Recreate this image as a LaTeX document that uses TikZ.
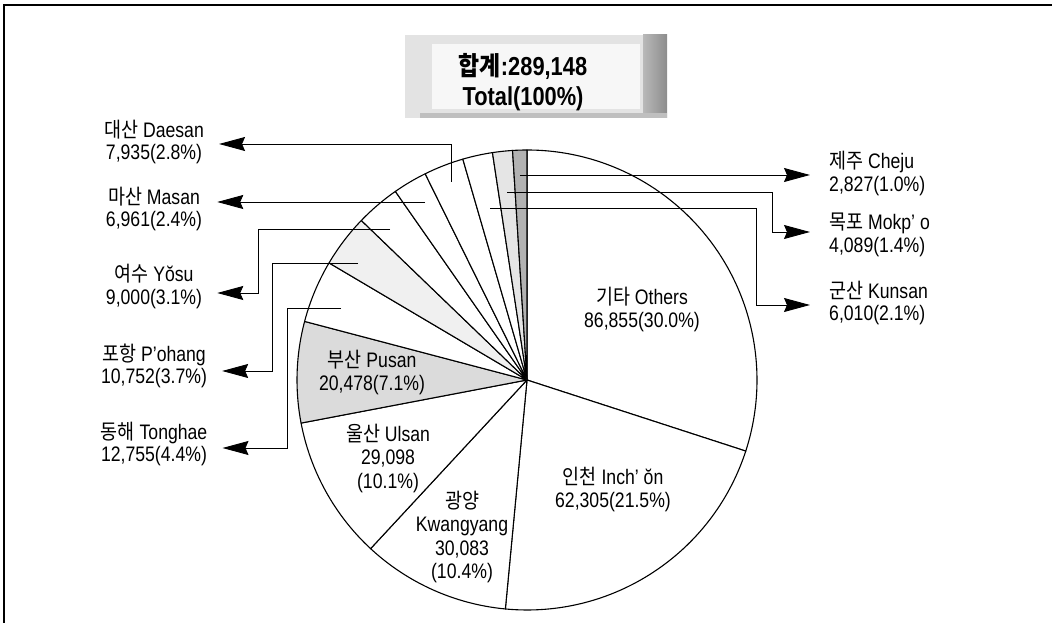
\documentclass[tikz,border=0pt]{standalone}
\usepackage{fontspec}
\setmainfont[FakeStretch=0.84]{Liberation Sans}
\newfontfamily\kr[FakeStretch=0.88,Scale=1.0]{Noto Sans CJK KR}
\usetikzlibrary{arrows.meta,calc}
\begin{document}
\begin{tikzpicture}[x=1pt,y=1pt,
  slice/.style={draw=black,line width=1.1pt,line join=round},
  lead/.style={draw=black,line width=0.9pt},
  arr/.style={lead,-{Stealth[length=26pt,width=14pt,inset=3pt]}},
  lbl/.style={align=center,font=\fontsize{21}{22.5}\selectfont,inner ysep=0pt,inner xsep=15pt},
  rlbl/.style={align=left,anchor=west,font=\fontsize{21}{22.5}\selectfont,inner ysep=0pt,inner xsep=19pt},
  inlbl/.style={align=center,font=\fontsize{21}{23.5}\selectfont,inner sep=0pt}]
\useasboundingbox (0,0) rectangle (1052,623);
% frame
\draw[line width=2pt] (4,0) -- (4,618) -- (1052,618);
% title box
\fill[gray!22] (405,505) rectangle (667,588);
\fill[gray!6] (432,514) rectangle (640,579);
\shade[left color=gray!55,right color=gray!90] (643,505) rectangle (667,588);
\fill[gray!50] (420,505) rectangle (667,510);
\node[font=\fontsize{26}{30}\selectfont\bfseries,align=center,inner sep=0pt] (title) at (523,541)
  {{\kr\bfseries 합계}:289,148\\Total(100\%)};
% pie
\coordinate (c) at (527,243);
\foreach \a/\b/\f in {90/-18/white,-18/-95.4/white,-95.4/-132.84/white,
  -132.84/-169.2/white,-169.2/-194.76/gray!28,-194.76/-210.6/white,
  -210.6/-223.92/gray!12,-223.92/-235.08/white,-235.08/-243.72/white,
  -243.72/-253.8/white,-253.8/-261.36/white,-261.36/-266.4/gray!20,
  -266.4/-270/gray!60}
  \filldraw[slice,fill=\f] (c) -- ++(\a:230) arc[start angle=\a,end angle=\b,radius=230] -- cycle;
% labels inside pie
\node[inlbl] (iOthers) at (642,313.5) {{\kr 기타} Others\\86,855(30.0\%)};
\node[inlbl] (iInchon) at (613,133.5) {{\kr 인천} Inch' ŏn\\62,305(21.5\%)};
\node[inlbl] (iKwang) at (462,86) {{\kr 광양}\\Kwangyang\\30,083\\(10.4\%)};
\node[inlbl] (iUlsan) at (388,164.7) {{\kr 울산} Ulsan\\29,098\\(10.1\%)};
\node[inlbl] (iPusan) at (372,250.5) {{\kr 부산} Pusan\\20,478(7.1\%)};
% outer labels
\node[lbl] (lDaesan) at (154,481) {{\kr 대산} Daesan\\7,935(2.8\%)};
\node[lbl] (lMasan) at (154,414) {{\kr 마산} Masan\\6,961(2.4\%)};
\node[lbl] (lYosu) at (154,336.5) {{\kr 여수} Yŏsu\\9,000(3.1\%)};
\node[lbl] (lPohang) at (154,257) {{\kr 포항} P'ohang\\10,752(3.7\%)};
\node[lbl] (lTonghae) at (154,179) {{\kr 동해} Tonghae\\12,755(4.4\%)};
\node[rlbl] (lCheju) at (810,449.5) {{\kr 제주} Cheju\\2,827(1.0\%)};
\node[rlbl] (lMokpo) at (810,388) {{\kr 목포} Mokp' o\\4,089(1.4\%)};
\node[rlbl] (lKunsan) at (810,320) {{\kr 군산} Kunsan\\6,010(2.1\%)};
% leader coordinates
\coordinate (pDaesan) at (451,441); \coordinate (bDaesan) at (451,479);
\coordinate (pMasan) at (425,421);
\coordinate (pYosu) at (390,394); \coordinate (bYosu) at (258,394); \coordinate (qYosu) at (258,330);
\coordinate (pPohang) at (358,360); \coordinate (bPohang) at (272,360); \coordinate (qPohang) at (272,252);
\coordinate (pTonghae) at (341,315); \coordinate (bTonghae) at (287,315); \coordinate (qTonghae) at (287,175);
\coordinate (pCheju) at (520,448);
\coordinate (pMokpo) at (507,431); \coordinate (bMokpo) at (772,431); \coordinate (qMokpo) at (772,391);
\coordinate (pKunsan) at (490,415); \coordinate (bKunsan) at (756,415); \coordinate (qKunsan) at (756,318);
% leaders
\draw[arr] (pDaesan) -- (bDaesan) -- (bDaesan -| lDaesan.east);
\draw[arr] (pMasan) -- (pMasan -| lMasan.east);
\draw[arr] (pYosu) -- (bYosu) -- (qYosu) -- (qYosu -| lYosu.east);
\draw[arr] (pPohang) -- (bPohang) -- (qPohang) -- (qPohang -| lPohang.east);
\draw[arr] (pTonghae) -- (bTonghae) -- (qTonghae) -- (qTonghae -| lTonghae.east);
\draw[arr] (pCheju) -- (pCheju -| lCheju.west);
\draw[arr] (pMokpo) -- (bMokpo) -- (qMokpo) -- (qMokpo -| lMokpo.west);
\draw[arr] (pKunsan) -- (bKunsan) -- (qKunsan) -- (qKunsan -| lKunsan.west);
\end{tikzpicture}
\end{document}
